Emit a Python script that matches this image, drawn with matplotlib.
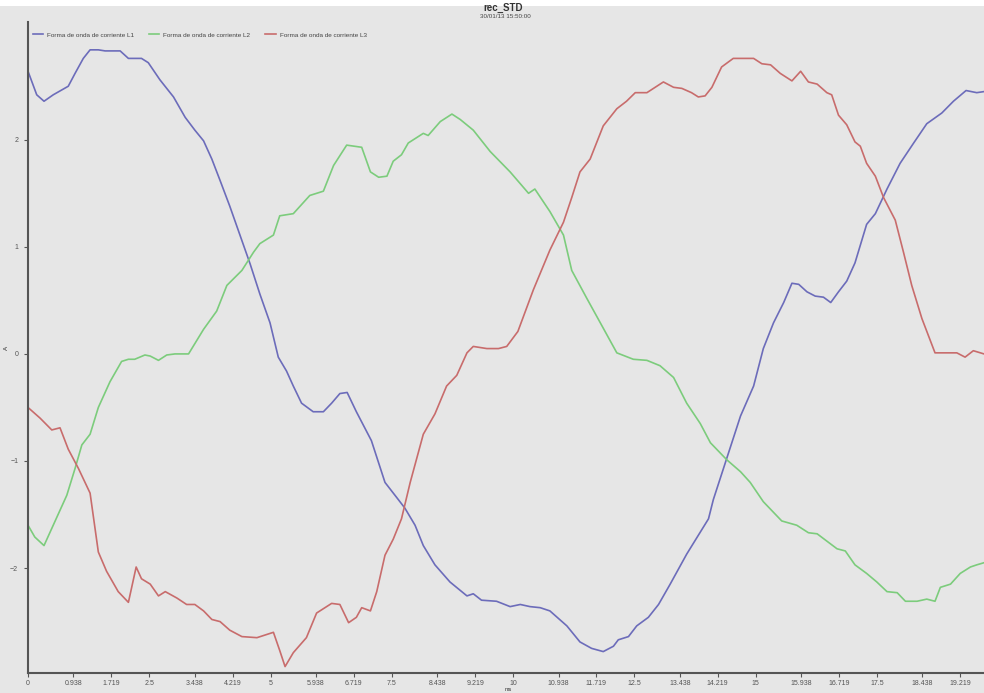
import matplotlib
matplotlib.use("Agg")
import matplotlib.pyplot as plt
from matplotlib.patches import Rectangle

plt.rcParams['font.family'] = ['Liberation Sans', 'DejaVu Sans']

# tiempo (ms) y corriente (A) de cada fase
t_l1 = [0, 0.18, 0.33, 0.52, 0.83, 0.97, 1.14, 1.28, 1.45, 1.59,
        1.90, 2.07, 2.34, 2.48, 2.72, 3.00, 3.24, 3.44, 3.62, 3.79,
        3.96, 4.16, 4.37, 4.58, 4.78, 4.99, 5.16, 5.33, 5.47, 5.64,
        5.88, 6.09, 6.26, 6.43, 6.58, 6.77, 7.08, 7.36, 7.60, 7.77,
        7.98, 8.15, 8.39, 8.70, 9.05, 9.18, 9.35, 9.66, 9.94, 10.15,
        10.35, 10.56, 10.76, 11.11, 11.38, 11.62, 11.86, 12.07, 12.17, 12.38,
        12.55, 12.79, 13.00, 13.24, 13.58, 14.03, 14.13, 14.41, 14.69, 14.96,
        15.16, 15.37, 15.58, 15.75, 15.89, 16.06, 16.23, 16.40, 16.55, 16.71,
        16.88, 17.05, 17.29, 17.47, 17.71, 17.98, 18.26, 18.53, 18.84, 19.08,
        19.34, 19.56, 19.71]
i_l1 = [2.64, 2.42, 2.36, 2.42, 2.50, 2.62, 2.76, 2.84, 2.84, 2.83,
        2.83, 2.76, 2.76, 2.72, 2.56, 2.40, 2.21, 2.09, 1.99, 1.82,
        1.62, 1.38, 1.11, 0.84, 0.56, 0.29, -0.03, -0.16, -0.30, -0.46,
        -0.54, -0.54, -0.46, -0.37, -0.36, -0.54, -0.81, -1.20, -1.34, -1.44,
        -1.60, -1.79, -1.97, -2.13, -2.26, -2.24, -2.30, -2.31, -2.36, -2.34,
        -2.36, -2.37, -2.40, -2.54, -2.69, -2.75, -2.78, -2.73, -2.67, -2.64,
        -2.54, -2.46, -2.34, -2.15, -1.87, -1.54, -1.36, -0.97, -0.58, -0.30,
        0.05, 0.29, 0.48, 0.66, 0.65, 0.58, 0.54, 0.53, 0.48, 0.58,
        0.68, 0.85, 1.21, 1.31, 1.54, 1.78, 1.97, 2.15, 2.25, 2.36,
        2.46, 2.44, 2.45]

t_l2 = [0, 0.14, 0.33, 0.52, 0.80, 0.97, 1.11, 1.28, 1.45, 1.69,
        1.93, 2.07, 2.20, 2.41, 2.52, 2.69, 2.86, 3.03, 3.31, 3.62,
        3.89, 4.10, 4.41, 4.65, 4.78, 5.06, 5.19, 5.47, 5.81, 6.09,
        6.30, 6.57, 6.88, 7.06, 7.23, 7.40, 7.53, 7.70, 7.84, 8.15,
        8.25, 8.50, 8.74, 8.91, 9.18, 9.53, 9.94, 10.32, 10.45, 10.76,
        11.04, 11.21, 11.52, 11.80, 12.14, 12.48, 12.76, 13.03, 13.31, 13.58,
        13.86, 14.07, 14.41, 14.69, 14.89, 15.16, 15.54, 15.85, 16.09, 16.27,
        16.68, 16.85, 17.05, 17.29, 17.50, 17.71, 17.92, 18.09, 18.33, 18.53,
        18.70, 18.81, 19.02, 19.22, 19.43, 19.56, 19.71]
i_l2 = [-1.60, -1.71, -1.79, -1.60, -1.32, -1.07, -0.85, -0.75, -0.50, -0.26,
        -0.07, -0.05, -0.05, -0.01, -0.02, -0.06, -0.01, 0.00, 0.00, 0.23,
        0.40, 0.64, 0.78, 0.95, 1.03, 1.11, 1.29, 1.31, 1.48, 1.52,
        1.76, 1.95, 1.93, 1.70, 1.65, 1.66, 1.80, 1.86, 1.97, 2.06,
        2.04, 2.17, 2.24, 2.19, 2.09, 1.89, 1.70, 1.50, 1.54, 1.33,
        1.11, 0.78, 0.52, 0.29, 0.01, -0.05, -0.06, -0.11, -0.22, -0.46,
        -0.65, -0.83, -0.99, -1.10, -1.20, -1.38, -1.56, -1.60, -1.67, -1.68,
        -1.82, -1.84, -1.97, -2.05, -2.13, -2.22, -2.23, -2.31, -2.31, -2.29,
        -2.31, -2.18, -2.15, -2.05, -1.99, -1.97, -1.95]

t_l3 = [0, 0.25, 0.49, 0.66, 0.83, 1.04, 1.28, 1.45, 1.62, 1.86,
        2.07, 2.23, 2.34, 2.52, 2.69, 2.83, 3.07, 3.27, 3.44, 3.62,
        3.79, 3.96, 4.16, 4.41, 4.72, 5.06, 5.19, 5.30, 5.47, 5.74,
        5.95, 6.26, 6.43, 6.61, 6.77, 6.88, 7.06, 7.19, 7.36, 7.53,
        7.70, 7.88, 8.15, 8.39, 8.63, 8.84, 9.05, 9.18, 9.46, 9.70,
        9.87, 10.10, 10.42, 10.76, 11.04, 11.21, 11.38, 11.59, 11.86, 12.14,
        12.34, 12.52, 12.76, 13.10, 13.31, 13.48, 13.68, 13.82, 13.96, 14.10,
        14.30, 14.54, 14.96, 15.13, 15.31, 15.51, 15.75, 15.93, 16.09, 16.27,
        16.47, 16.57, 16.71, 16.88, 17.05, 17.16, 17.29, 17.47, 17.64, 17.88,
        18.05, 18.22, 18.43, 18.70, 19.15, 19.32, 19.49, 19.71]
i_l3 = [-0.50, -0.60, -0.71, -0.69, -0.89, -1.07, -1.30, -1.85, -2.03, -2.22,
        -2.32, -1.99, -2.10, -2.15, -2.26, -2.22, -2.28, -2.34, -2.34, -2.40,
        -2.48, -2.50, -2.58, -2.64, -2.65, -2.60, -2.77, -2.92, -2.79, -2.65,
        -2.42, -2.33, -2.34, -2.51, -2.46, -2.37, -2.40, -2.22, -1.88, -1.73,
        -1.54, -1.20, -0.75, -0.56, -0.30, -0.20, 0.01, 0.07, 0.05, 0.05,
        0.07, 0.21, 0.60, 0.97, 1.23, 1.46, 1.70, 1.82, 2.13, 2.29,
        2.36, 2.44, 2.44, 2.54, 2.49, 2.48, 2.44, 2.40, 2.41, 2.49,
        2.68, 2.76, 2.76, 2.71, 2.70, 2.62, 2.55, 2.64, 2.54, 2.52,
        2.44, 2.42, 2.23, 2.14, 1.98, 1.94, 1.78, 1.66, 1.46, 1.25,
        0.95, 0.64, 0.33, 0.01, 0.01, -0.03, 0.03, 0.00]

x_ticks = [0, 0.938, 1.719, 2.5, 3.438, 4.219, 5, 5.938, 6.719, 7.5, 8.438, 9.219,
           10, 10.938, 11.719, 12.5, 13.438, 14.219, 15, 15.938, 16.719, 17.5,
           18.438, 19.219]
x_tick_labels = ["0", "0.938", "1.719", "2.5", "3.438", "4.219", "5", "5.938",
                 "6.719", "7.5", "8.438", "9.219", "10", "10.938", "11.719", "12.5",
                 "13.438", "14.219", "15", "15.938", "16.719", "17.5", "18.438",
                 "19.219"]
y_ticks = [-2, -1, 0, 1, 2]
labels = ["Forma de onda de corriente L1", "Forma de onda de corriente L2",
          "Forma de onda de corriente L3"]
colors = ["#6c6cba", "#7ccc7c", "#c86c6c"]

bg = "#e6e6e6"
W, H = 984, 693
fig = plt.figure(figsize=(W / 100, H / 100), dpi=100, facecolor=bg)
ax = fig.add_axes([28 / W, 1 - 673 / H, (W - 28) / W, (673 - 22) / H])
ax.set_facecolor(bg)

for t, i, c, lab in zip([t_l1, t_l2, t_l3], [i_l1, i_l2, i_l3], colors, labels):
    ax.plot(t, i, color=c, lw=1.2, label=lab)

ax.set_xlim(0, 19.71)
ax.set_ylim(-2.98, 3.1)
ax.set_xticks(x_ticks)
ax.set_xticklabels(x_tick_labels)
ax.set_yticks(y_ticks)
ax.tick_params(axis="both", labelsize=5, colors="#555555", length=3, width=0.8,
               pad=4)
ax.tick_params(axis="x", pad=2)
for s in ["top", "right"]:
    ax.spines[s].set_visible(False)
for s in ["left", "bottom"]:
    ax.spines[s].set_color("#555555")
    ax.spines[s].set_linewidth(1.5)

# unidades de los ejes
ax.set_xlabel("ms", fontsize=4, color="#333333", va="center")
ax.xaxis.set_label_coords((508 - 28) / (W - 28), -16.8 / 651)
ax.set_ylabel("A", fontsize=4.5, color="#333333", rotation=90, labelpad=1)

# franja blanca superior y títulos
fig.patches.append(Rectangle((0, 1 - 6 / H), 1, 6 / H, transform=fig.transFigure,
                             facecolor="white", edgecolor="none", zorder=-1))
fig.text(503 / W, 1 - 8 / H, "rec_STD", ha="center", va="center",
         fontsize=7, fontweight="bold", color="#333333")
fig.text(505 / W, 1 - 17 / H, "30/01/13 15:50:00", ha="center", va="center",
         fontsize=4.5, color="#444444")

fig.legend(loc="center left", bbox_to_anchor=(30 / W, 1 - 35 / H), ncol=3,
           frameon=False, fontsize=4.6, handlelength=1.6, handletextpad=0.6,
           columnspacing=2.4, borderaxespad=0, labelcolor="#444444")

fig.savefig("out.png", dpi=100, facecolor=bg)
